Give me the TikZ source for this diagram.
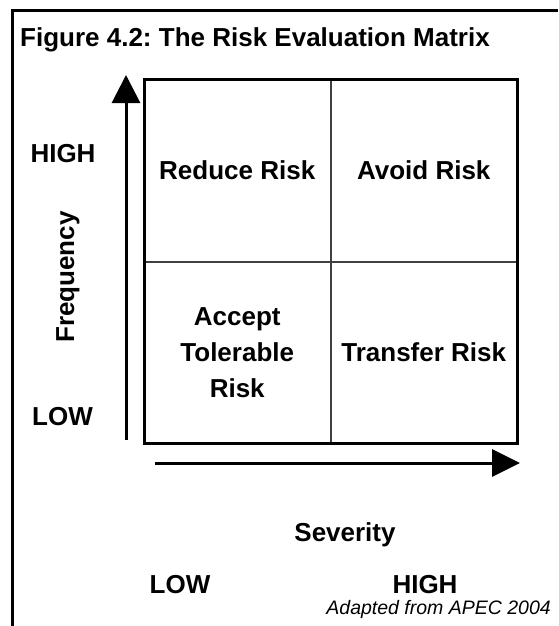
\documentclass[tikz,border=0pt]{standalone}
\usepackage{fontspec}
\setmainfont{Liberation Sans}
\usepackage{tikz}
\usetikzlibrary{arrows.meta,positioning}
\frenchspacing

\begin{document}
\begin{tikzpicture}[x=1pt, y=-1pt,
    cell/.style={rectangle, draw=black!75, line width=2pt, minimum width=186.5pt, minimum height=182pt, inner sep=0pt, outer sep=0pt, align=center, font=\fontsize{26}{36}\selectfont\bfseries},
    lbl/.style={font=\fontsize{26}{30}\selectfont\bfseries, inner sep=0pt}]
  \useasboundingbox (0,0) rectangle (558,626);
  \draw[line width=3pt] (12,626) -- (12,11) -- (558,11);
  \node (title) [lbl, anchor=base west] at (20,47) {Figure 4.2: The Risk Evaluation Matrix};
  % matrix cells
  \node (reduce) [cell] at (237.25,170.5) {Reduce Risk};
  \node (avoid) [cell] at (423.75,170.5) {Avoid Risk};
  \node (accept) [cell] at (237.25,352.5) {Accept\\Tolerable\\Risk};
  \node (transfer) [cell] at (423.75,352.5) {Transfer Risk};
  \draw[line width=3pt] (reduce.north west) rectangle (transfer.south east);
  % axes
  \coordinate (flow) at (126,440);
  \coordinate (fhigh) at (126,75);
  \coordinate (slow) at (155,463);
  \coordinate (shigh) at (520,463);
  \draw[line width=3pt, -{Triangle[length=28pt, width=28pt]}] (flow) -- (fhigh);
  \draw[line width=3pt, -{Triangle[length=28pt, width=27pt]}] (slow) -- (shigh);
  \node (high) [lbl] at (63,153.5) {HIGH};
  \node (low) [lbl] at (62.5,416.5) {LOW};
  \node (freq) [lbl, rotate=90] at (68,277) {Frequency};
  \node (sev) [lbl] at (345,535) {Severity};
  \node (slowlbl) [lbl] at (180,585) {LOW};
  \node (shighlbl) [lbl] at (425,585) {HIGH};
  \node (source) [anchor=base east, inner sep=0pt, font=\fontsize{19.5}{24}\selectfont\itshape] at (551,614) {Adapted from APEC 2004};
\end{tikzpicture}
\end{document}
